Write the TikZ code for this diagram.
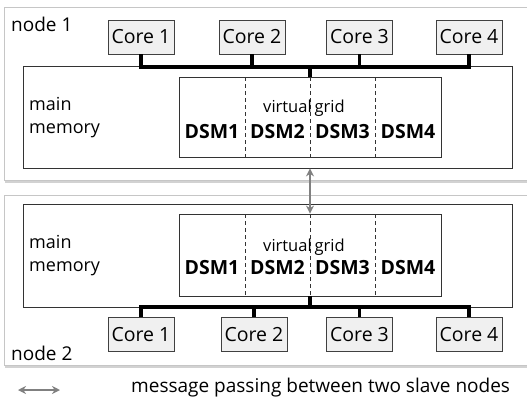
\documentclass[tikz,border=0pt]{standalone}
\usepackage{fontspec}
\setmainfont{Open Sans}
\usetikzlibrary{arrows.meta}

\tikzset{
  hostbox/.style={draw=gray!45,line width=1pt,fill=white},
  hostshadow/.style={fill=gray!35},
  membox/.style={draw=black!80,line width=0.8pt,minimum width=489pt,inner sep=0pt},
  dsmbox/.style={draw=black!80,line width=0.8pt,minimum width=262pt,inner sep=0pt},
  corebox/.style={draw=black!75,fill=gray!12,line width=0.8pt,minimum width=66pt,
    minimum height=34pt,inner sep=0pt,font=\fontsize{19.5}{19.5}\selectfont},
  divider/.style={black!80,dash pattern=on 4pt off 3pt,line width=0.8pt},
  bus/.style={line width=3.5pt},
  msg/.style={gray,line width=1.6pt,{Stealth[length=8pt,width=8pt]}-{Stealth[length=8pt,width=8pt]}},
  txt/.style={font=\fontsize{19}{23}\selectfont,inner sep=0pt},
  memtxt/.style={font=\fontsize{18}{23}\selectfont,inner sep=0pt},
  dsmtxt/.style={font=\fontsize{19.5}{19.5}\selectfont\bfseries,inner sep=0pt},
  gridtxt/.style={font=\fontsize{16.5}{16.5}\selectfont,inner sep=0pt}
}

\begin{document}
\begin{tikzpicture}[x=1pt,y=-1pt]
  \clip (0,0) rectangle (527,399);
  % the two hosts
  \fill[hostshadow](5,10) rectangle (530,183);
  \draw[hostbox](4,7) rectangle (535,180);
  \fill[hostshadow](5,198) rectangle (530,368);
  \draw[hostbox](4,195) rectangle (535,365);
  \node[txt,anchor=west] (host1) at (11,24){node 1};
  \node[txt,anchor=west] (host2) at (11,353){node 2};

  % node 1
  \node[membox,minimum height=102pt] (mem1) at (267.5,117){};
  \node[dsmbox,minimum height=80pt] (dsm1) at (310,117){};
  \node[memtxt,anchor=west,align=left] (mm1) at (29,118){main\\memory};
  \foreach \x in {245,310,375} \draw[divider](\x,77)--(\x,157);
  \node[gridtxt] (vg1) at (304,108){virtual\hspace{3pt}grid};
  \foreach \i/\x in {1/212,2/277.5,3/342.5,4/408}
    \node[dsmtxt] (d1\i) at (\x,132){DSM\i};
  \coordinate (b1) at (310,67);
  \foreach \i/\x in {1/141,2/252,3/359.5,4/469}{
    \node[corebox] (c1\i) at (\x,37){Core \i};
    \draw[bus](c1\i.south) |- (b1);
  }
  \draw[bus](b1)--(dsm1.north);

  % node 2
  \node[membox,minimum height=103pt] (mem2) at (267.5,255.5){};
  \node[dsmbox,minimum height=82pt] (dsm2) at (310,255){};
  \node[memtxt,anchor=west,align=left] (mm2) at (29,256){main\\memory};
  \foreach \x in {245,310,375} \draw[divider](\x,214)--(\x,296);
  \node[gridtxt] (vg2) at (304,247){virtual\hspace{3pt}grid};
  \foreach \i/\x in {1/212,2/277.5,3/342.5,4/408}
    \node[dsmtxt] (d2\i) at (\x,268){DSM\i};
  \coordinate (b2) at (310,307);
  \foreach \i/\x in {1/141,2/254,3/359.5,4/469}{
    \node[corebox] (c2\i) at (\x,334.5){Core \i};
    \draw[bus](c2\i.north) |- (b2);
  }
  \draw[bus](b2)--(dsm2.south);

  % message passing
  \draw[msg](mem1.south -| dsm1.south)--(dsm2.north);
  \coordinate (la) at (18,390);
  \coordinate (lb) at (60,390);
  \draw[msg](la)--(lb);
  \node[txt,anchor=west] (legend) at (131,388){message passing between two slave nodes};
\end{tikzpicture}
\end{document}
